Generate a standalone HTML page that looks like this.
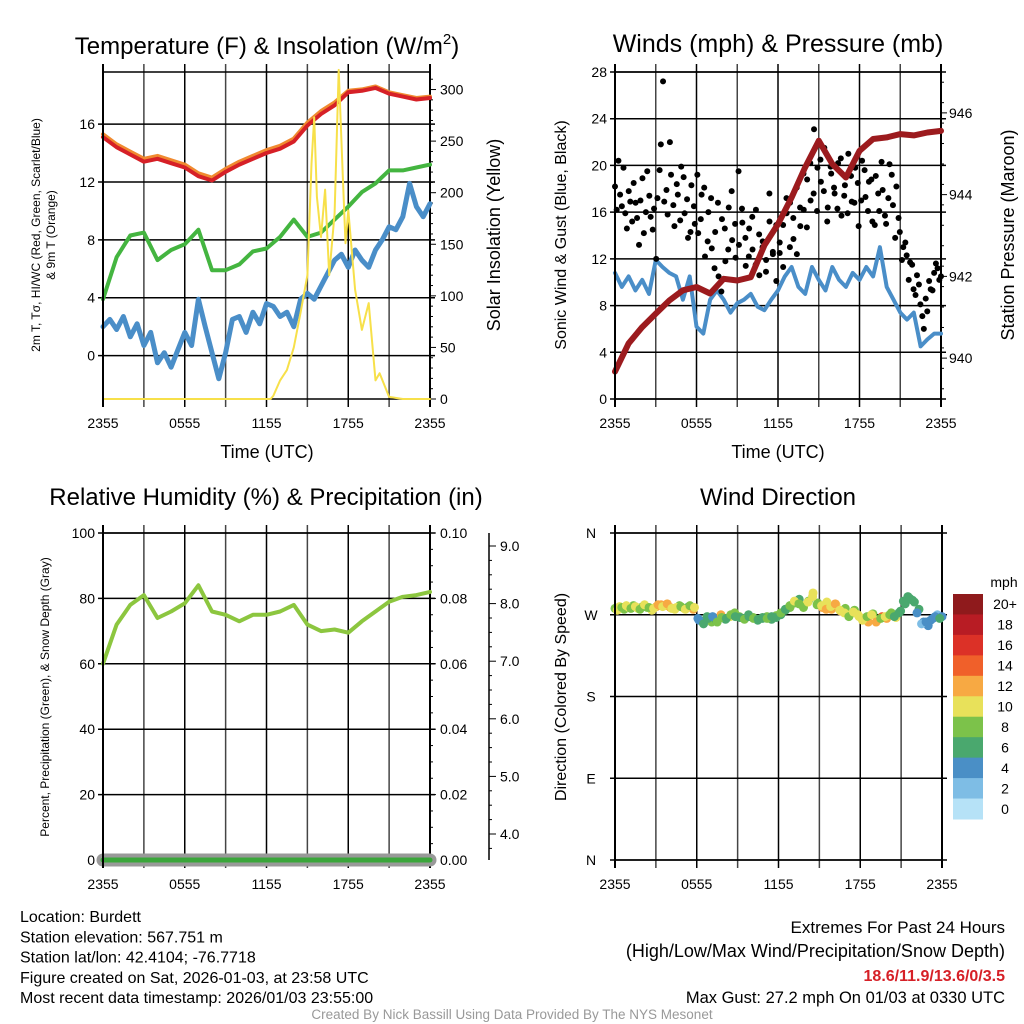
<!DOCTYPE html>
<html><head><meta charset="utf-8"><style>
body{margin:0;background:#fff}
svg{display:block;font-family:"Liberation Sans",sans-serif}
</style></head><body>
<svg id="c" width="1024" height="1024" viewBox="0 0 1024 1024"></svg>
<script>
// ---- data ----
const hours = [0,1,2,3,4,5,6,7,8,9,10,11,12,13,14,15,16,17,18,19,20,21,22,23,24];
const temp2m = [15.1,14.4,13.9,13.4,13.6,13.3,13.0,12.4,12.1,12.7,13.2,13.6,14.0,14.3,14.8,15.9,16.7,17.3,18.2,18.3,18.5,18.1,17.9,17.7,17.8];
const temp9m = [15.3,14.6,14.1,13.6,13.8,13.5,13.2,12.6,12.3,12.9,13.4,13.8,14.2,14.5,15.0,16.1,16.9,17.5,18.3,18.4,18.6,18.2,18.0,17.8,17.9];
const tSigma = [3.9,6.8,8.3,8.5,6.6,7.3,7.7,8.7,5.9,5.9,6.3,7.2,7.4,8.2,9.4,8.2,8.5,9.4,10.3,11.3,11.9,12.8,12.8,13.0,13.2];
const halfHours = [0,0.5,1,1.5,2,2.5,3,3.5,4,4.5,5,5.5,6,6.5,7,7.5,8,8.5,9,9.5,10,10.5,11,11.5,12,12.5,13,13.5,14,14.5,15,15.5,16,16.5,17,17.5,18,18.5,19,19.5,20,20.5,21,21.5,22,22.5,23,23.5,24];
const heatIndex = [2.0,2.5,1.8,2.7,1.3,2.2,0.7,1.6,-0.5,0.2,-0.8,0.4,1.6,0.7,3.9,2.0,0.2,-1.6,0.2,2.5,2.7,1.6,3.0,2.2,3.6,3.4,2.7,3.0,2.0,3.9,4.3,3.9,4.8,5.7,6.6,7.0,6.1,7.3,6.6,6.1,7.3,8.0,8.9,8.7,9.6,11.9,10.3,9.6,10.5];
const solarTimes = [0,12.3,12.5,13,13.5,14,14.5,15,15.3,15.5,15.7,16,16.3,16.6,17,17.3,17.6,17.8,18,18.5,19,19.5,20,20.3,21,22,24];
const solarValues = [0,0,3,18,28,50,84,120,228,273,196,157,203,120,180,319,216,151,183,106,67,93,18,25,2,0,0];
const sonicWind = [10.8,9.6,10.5,9.3,10.2,9.0,11.9,11.3,10.8,10.5,8.5,10.5,6.2,5.6,8.5,9.3,8.5,7.4,8.2,8.5,9.0,7.9,7.6,8.5,9.3,10.5,11.3,9.6,9.0,11.3,10.2,9.3,11.3,10.2,9.6,10.8,10.2,11.3,10.5,13.0,9.6,8.5,7.4,6.8,7.4,4.5,5.1,5.6,5.6];
const pressure = [939.67,940.36,940.76,941.09,941.41,941.66,941.74,941.58,941.94,941.90,941.98,942.76,943.28,943.93,944.67,945.32,944.75,944.42,945.07,945.36,945.40,945.48,945.45,945.52,945.56];
const gusts = [18.2,20.4,16.5,15.9,17.8,15.2,16.8,13.2,18.9,16.0,17.4,14.5,
12.0,19.6,27.2,17.9,22.0,16.6,18.4,15.3,19.0,17.1,14.3,16.5,
19.2,15.4,18.1,13.5,17.2,11.2,16.8,9.2,14.6,12.8,17.8,15.0,
19.5,16.3,13.8,12.2,15.6,11.5,14.1,13.0,10.9,17.6,12.6,14.9,
13.4,11.3,15.9,16.8,13.7,12.4,14.8,16.2,18.8,17.0,23.1,19.8,
18.6,21.5,16.4,19.3,17.6,20.2,15.7,18.3,21.0,16.9,19.8,14.8,
20.4,17.3,18.6,15.2,19.1,16.1,17.9,15.0,20.1,16.6,18.2,14.3,
13.0,12.3,11.7,9.4,10.6,8.1,6.0,7.5,9.4,10.8,11.2,10.5];
const gusts2 = [16.2,17.5,19.8,14.6,16.9,18.5,15.5,17.0,14.2,19.5,15.6,16.3,
17.2,21.8,16.9,15.8,19.2,14.8,17.5,19.9,15.9,13.8,18.3,15.0,
14.2,17.5,12.2,16.0,12.9,14.3,10.5,15.4,11.8,16.4,13.6,12.1,
13.2,15.1,11.4,14.6,12.8,16.2,10.6,13.5,11.9,15.2,12.4,10.1,
12.5,14.9,17.2,13.0,15.5,18.1,16.4,19.3,14.7,20.2,17.6,16.1,
20.5,17.8,15.2,19.9,18.1,16.3,20.6,17.4,15.9,19.1,16.8,18.5,
17.0,19.6,16.1,18.8,14.9,17.6,20.3,15.7,17.2,19.2,13.8,15.5,
11.9,13.4,10.2,11.5,8.9,9.8,7.1,8.6,10.1,9.3,11.6,10.2];
const windDir = [277,279,276,278,280,277,279,278,275, 279,281,280,278,276,280,277,279,276,
266,263,268,262,264,270,265,268,272, 268,266,270,267,264,266,268,265,269,
270,275,278,283,287,280,285,294,283, 278,284,276,281,274,277,270,275,268,
266,262,271,264,268,266,272,267,274, 282,288,284,276,262,258,266,270,268];
const windSpd = [9.5,10.2,9.8,10.8,9.1,10.5,9.7,8.6,10.3, 12.4,12.8,11.6,12.2,10.4,9.9,10.6,7.8,12.1,
4.5,7.2,6.8,8.4,6.1,12.5,7.5,10.2,8.8, 8.2,7.5,6.6,8.8,7.9,7.3,8.5,6.4,9.6,
7.7,6.2,8.3,8.9,7.6,10.5,9.2,10.1,8.5, 12.6,11.1,13.0,10.4,12.3,9.6,10.9,8.2,11.4,
10.6,12.8,9.5,10.2,14.2,12.5,8.7,10.9,6.9, 6.8,6.4,7.2,6.0,4.5,4.2,5.6,3.3,5.8];
const windDir2 = [275,278,280,277,279,276,281,278,277, 281,279,282,277,278,279,276,280,278,
264,260,266,268,262,267,266,270,268, 267,265,268,266,265,267,266,268,267,
272,276,280,285,282,278,284,290,281, 280,276,279,282,275,272,268,273,270,
264,268,270,262,266,268,270,268,272, 285,290,286,272,260,262,264,268,266];
const windSpd2 = [10.4,9.3,10.9,8.7,10.1,9.9,10.6,9.2,11.0, 12.6,11.5,12.9,10.8,11.2,9.6,10.1,8.9,11.6,
5.2,6.6,7.7,4.9,8.2,9.4,7.1,8.8,6.5, 7.6,8.3,7.0,8.9,6.8,7.4,8.1,7.7,6.9,
8.6,7.1,9.3,10.3,8.4,9.8,10.6,11.4,9.2, 11.9,12.4,10.7,12.8,11.5,10.2,9.8,11.7,10.6,
11.3,9.8,10.7,12.1,9.6,11.9,8.3,7.4,7.9, 6.2,7.1,6.6,5.1,3.7,4.6,5.4,4.1,6.3];
const rh = [60,72,78,81,74,76,78.5,84,76,75,73,75,75,76,78,72,70,70.5,69.5,73,76,79,80.5,81,82];
const timeLabels = ["2355","0555","1155","1755","2355"];
const tempTicks = [0,4,8,12,16];
const solarTicks = [0,50,100,150,200,250,300];
const windTicks = [0,4,8,12,16,20,24,28];
const presTicks = [940,942,944,946];
const rhTicks = [0,20,40,60,80,100];
const precipTicks = ["0.00","0.02","0.04","0.06","0.08","0.10"];
const snowTicks = [4,5,6,7,8,9];
const dirTicks = [0,90,180,270,360];
const dirLabels = ["N","E","S","W","N"];
const cbLabels = ["20+","18","16","14","12","10","8","6","4","2","0"];
const cbColors = ["#8f1a1c","#b81c24","#dc3127","#f0602a","#f7a943","#e8e15a","#7cc24a","#4aa86e","#4a8fc6","#7ebde5","#b6e2f7"];

// ---- helpers ----
const NS="http://www.w3.org/2000/svg";
const svg=document.getElementById('c');
function mk(tag,attrs,parent,name,inter){
  const el=document.createElementNS(NS,tag);
  for(const k in attrs) el.setAttribute(k,attrs[k]);
  
  
  (parent||svg).appendChild(el); return el;
}
function txt(x,y,s,size,opts,name){
  opts=opts||{};
  const a={x:x,y:y,'font-size':size,fill:opts.fill||'#000','text-anchor':opts.anchor||'middle'};
  if(opts.weight) a['font-weight']=opts.weight;
  if(opts.rot!==undefined) a.transform='rotate('+opts.rot+' '+x+' '+y+')';
  const t=mk('text',a,opts.g,name||'label',false); t.textContent=s; return t;
}
function linear(d0,d1,r0,r1){return v=>r0+(v-d0)/(d1-d0)*(r1-r0);}
function path(xs,ys,xf,yf,stroke,w,name,g){
  let d='';
  for(let i=0;i<xs.length;i++) d+=(i?'L':'M')+xf(xs[i]).toFixed(1)+','+yf(ys[i]).toFixed(1);
  return mk('path',{d:d,fill:'none',stroke:stroke,'stroke-width':w,'stroke-linejoin':'round','stroke-linecap':'round'},g,name,false);
}
function frame(L,R,T,B,hvals,yf,name){
  const g=mk('g',{},svg,name,false);
  const xf=linear(0,24,L,R);
  for(let h=0;h<=24;h+=3){
    const x=xf(h);
    mk('line',{x1:x,x2:x,y1:T-8,y2:B+8,stroke:(h%6==0)?'#000':'#444','stroke-width':(h==0||h==24)?2:1.5},g,'vertical-gridline',false);
  }
  hvals.forEach(v=>{const y=yf(v);
    mk('line',{x1:L-5,x2:R+5,y1:y,y2:y,stroke:'#000','stroke-width':1.5},g,'horizontal-gridline',false);});
  mk('line',{x1:L,x2:R,y1:T,y2:T,stroke:'#000','stroke-width':1.5},g,'top-border',false);
  mk('line',{x1:L,x2:R,y1:B,y2:B,stroke:'#000','stroke-width':1.5},g,'bottom-border',false);
  timeLabels.forEach((s,i)=>txt(xf(i*6),B+29,s,14,{g:g},'x-tick-label'));
  return {g:g,xf:xf};
}

// ---- Panel 1: temperature ----
(function(){
  const L=103,R=430,T=72,B=399;
  const yf=linear(-3,19.6,B,T), yr=linear(0,317,B,T);
  const f=frame(L,R,T,B,tempTicks,yf,'temperature-panel');
  const g=f.g, xf=f.xf;
  tempTicks.forEach(v=>txt(L-8,yf(v)+5,String(v),14,{anchor:'end',g:g},'left-tick-label'));
  for(let v=0;v<=310;v+=10){const y=yr(v);
    mk('line',{x1:R,x2:R+(v%50==0?6:3),y1:y,y2:y,stroke:'#000','stroke-width':1},g,'right-tick',false);}
  solarTicks.forEach(v=>txt(R+10,yr(v)+5,String(v),14,{anchor:'start',g:g},'right-tick-label'));
  path(hours,temp9m,xf,yf,'#f08a30',4,'temp-9m-line',g);
  path(hours,temp2m,xf,yf,'#d62027',4,'temp-2m-line',g);
  path(hours,tSigma,xf,yf,'#44b540',4,'t-sigma-line',g);
  path(halfHours,heatIndex,xf,yf,'#4a8ec8',5,'heat-index-line',g);
  path(solarTimes,solarValues,xf,yr,'#f7e04a',2,'solar-insolation-line',g);
  const tt=txt(267,54,'',24,{g:g},'temperature-title');
  tt.innerHTML='Temperature (F) &amp; Insolation (W/m<tspan dy="-10" font-size="15">2</tspan><tspan dy="10">)</tspan>';
  txt(267,458,'Time (UTC)',18,{g:g},'x-axis-title');
  txt(40,235,'2m T, T\u03c3, HI/WC (Red, Green, Scarlet/Blue)',12,{rot:-90,g:g},'left-axis-title');
  txt(55,235,'& 9m T (Orange)',12,{rot:-90,g:g},'left-axis-title-2');
  txt(500,235,'Solar Insolation (Yellow)',18,{rot:-90,g:g},'right-axis-title');
  mk('line',{x1:L,x2:L,y1:T-8,y2:B+8,stroke:'#000','stroke-width':2},g,'left-axis',false);
})();

// ---- Panel 2: winds ----
(function(){
  const L=615,R=941,T=72,B=399;
  const yf=linear(0,28,B,T), yp=linear(939,947,B,T);
  const f=frame(L,R,T,B,windTicks,yf,'winds-panel');
  const g=f.g, xf=f.xf;
  windTicks.forEach(v=>txt(L-8,yf(v)+5,String(v),14,{anchor:'end',g:g},'left-tick-label'));
  for(let v=939.25;v<=947;v+=0.5){const y=yp(v);
    mk('line',{x1:R,x2:R+3,y1:y,y2:y,stroke:'#000','stroke-width':1},g,'right-tick',false);}
  presTicks.forEach(v=>{const y=yp(v);
    mk('line',{x1:R,x2:R+6,y1:y,y2:y,stroke:'#000','stroke-width':1},g,'right-major-tick',false);
    txt(R+8,y+5,String(v),14,{anchor:'start',g:g},'right-tick-label');});
  path(halfHours,sonicWind,xf,yf,'#4a8ec8',4,'sonic-wind-line',g);
  gusts.forEach((v,i)=>{
    mk('circle',{cx:xf(i*24/(gusts.length-1)),cy:yf(v),r:3,fill:'#000'},g,'gust-point',false);
  });
  gusts2.forEach((v,i)=>{
    mk('circle',{cx:xf((i+0.5)*24/gusts2.length),cy:yf(v),r:3,fill:'#000'},g,'gust-point',false);
  });
  path(hours,pressure,xf,yp,'#9c1b1e',6,'pressure-line',g);
  txt(778,52,'Winds (mph) & Pressure (mb)',25,{g:g},'winds-title');
  txt(778,458,'Time (UTC)',18,{g:g},'x-axis-title');
  txt(566,235,'Sonic Wind & Gust (Blue, Black)',16,{rot:-90,g:g},'left-axis-title');
  txt(1014,235,'Station Pressure (Maroon)',18,{rot:-90,g:g},'right-axis-title');
  mk('line',{x1:L,x2:L,y1:T-8,y2:B+8,stroke:'#000','stroke-width':2},g,'left-axis',false);
})();

// ---- Panel 3: RH ----
(function(){
  const L=103,R=430,T=533,B=860;
  const yf=linear(0,100,B,T);
  const f=frame(L,R,T,B,rhTicks,yf,'humidity-panel');
  const g=f.g, xf=f.xf;
  rhTicks.forEach(v=>txt(L-8,yf(v)+5,String(v),14,{anchor:'end',g:g},'left-tick-label'));
  for(let v=0;v<=100;v+=5){const y=yf(v);
    mk('line',{x1:R,x2:R+(v%20==0?6:3),y1:y,y2:y,stroke:'#000','stroke-width':1},g,'right-tick',false);}
  precipTicks.forEach((s,i)=>txt(R+10,yf(i*20)+5,s,14,{anchor:'start',g:g},'precip-tick-label'));
  const ys=linear(4,9,834,546);
  mk('line',{x1:489,x2:489,y1:533,y2:860,stroke:'#000','stroke-width':1.5},g,'snow-axis',false);
  for(let v=3.5;v<=9.5;v+=0.25){const y=ys(v); if(y<533||y>860) continue;
    mk('line',{x1:489,x2:489+(Math.abs(v-Math.round(v))<0.01?7:3),y1:y,y2:y,stroke:'#000','stroke-width':1},g,'snow-tick',false);}
  snowTicks.forEach(v=>txt(500,ys(v)+5,v.toFixed(1),14,{anchor:'start',g:g},'snow-tick-label'));
  path([0,24],[0,0],xf,yf,'#999',13,'snow-depth-line',g);
  path([0,24],[0,0],xf,yf,'#3aa63a',5,'precip-line',g);
  path(hours,rh,xf,yf,'#8cc63f',4,'rh-line',g);
  txt(266,505,'Relative Humidity (%) & Precipitation (in)',24,{g:g},'humidity-title');
  txt(49,697,'Percent, Precipitation (Green), & Snow Depth (Gray)',12,{rot:-90,g:g},'left-axis-title');
  mk('line',{x1:L,x2:L,y1:T-8,y2:B+8,stroke:'#000','stroke-width':2},g,'left-axis',false);
})();

// ---- Panel 4: wind direction ----
(function(){
  const L=615,R=942,T=533,B=860;
  const yf=linear(0,360,B,T);
  const f=frame(L,R,T,B,dirTicks,yf,'wind-direction-panel');
  const g=f.g, xf=f.xf;
  dirTicks.forEach((v,i)=>txt(591,yf(v)+5,dirLabels[i],14,{g:g},'direction-tick-label'));
  windDir.forEach((d,i)=>{
    const idx=Math.min(10,Math.floor(windSpd[i]/2));
    mk('circle',{cx:xf(i*24/(windDir.length-1)),cy:yf(d),r:4.5,fill:cbColors[10-idx]},g,'direction-point',false);
  });
  windDir2.forEach((d,i)=>{
    const idx=Math.min(10,Math.floor(windSpd2[i]/2));
    mk('circle',{cx:xf((i+0.5)*24/windDir2.length),cy:yf(d),r:4.5,fill:cbColors[10-idx]},g,'direction-point',false);
  });
  txt(778,505,'Wind Direction',24,{g:g},'direction-title');
  txt(566,697,'Direction (Colored By Speed)',16,{rot:-90,g:g},'left-axis-title');
  mk('line',{x1:L,x2:L,y1:T-8,y2:B+8,stroke:'#000','stroke-width':2},g,'left-axis',false);
  const cb=mk('g',{},svg,'speed-colorbar',false);
  const h=(819-594)/11;
  cbColors.forEach((c,i)=>{
    mk('rect',{x:953,y:594+i*h,width:30,height:h+0.5,fill:c},cb,'colorbar-swatch',false);
    txt(1005,594+i*h+h/2+5,cbLabels[i],14,{g:cb},'colorbar-label');
  });
  txt(1004,587,'mph',14,{g:cb},'colorbar-unit');
})();

// ---- footer text ----
const info=["Location: Burdett","Station elevation: 567.751 m","Station lat/lon: 42.4104; -76.7718","Figure created on Sat, 2026-01-03, at 23:58 UTC","Most recent data timestamp: 2026/01/03 23:55:00"];
info.forEach((s,i)=>txt(20,922+i*20.3,s,16,{anchor:'start'},'station-info-line'));
txt(1005,933,'Extremes For Past 24 Hours',17,{anchor:'end'},'extremes-title');
txt(1005,957,'(High/Low/Max Wind/Precipitation/Snow Depth)',18,{anchor:'end'},'extremes-subtitle');
txt(1005,981,'18.6/11.9/13.6/0/3.5',16,{anchor:'end',fill:'#d62027',weight:'bold'},'extremes-values');
txt(1005,1003,'Max Gust: 27.2 mph On 01/03 at 0330 UTC',16.5,{anchor:'end'},'max-gust');
txt(512,1019,'Created By Nick Bassill Using Data Provided By The NYS Mesonet',13.5,{fill:'#999'},'credit');
</script>
</body></html>
